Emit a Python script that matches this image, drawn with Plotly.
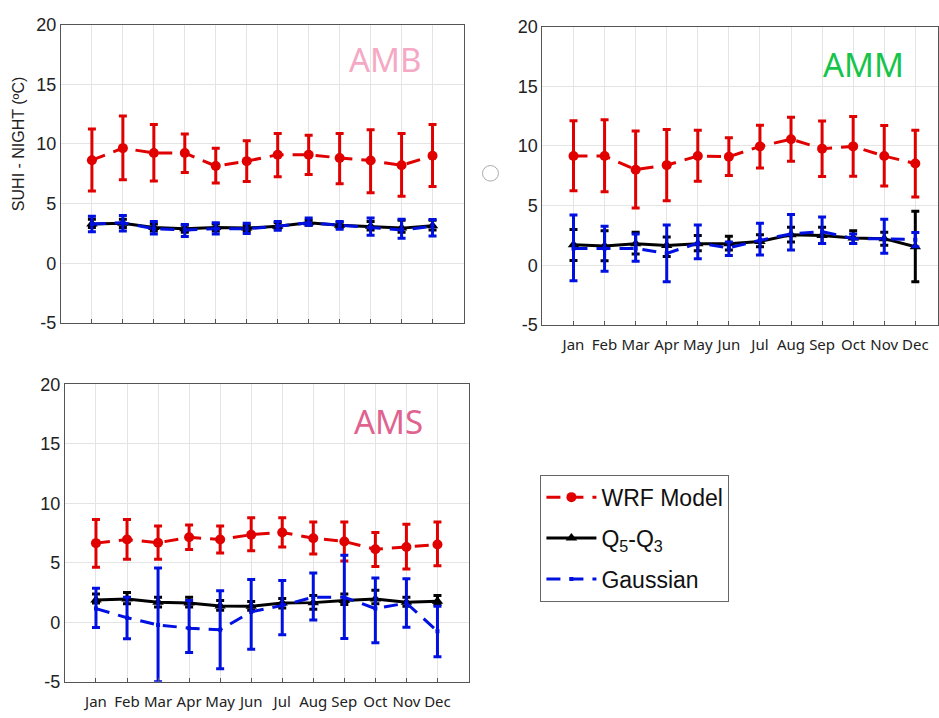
import plotly.graph_objects as go

W, H = 939, 718
months = ["Jan", "Feb", "Mar", "Apr", "May", "Jun", "Jul", "Aug", "Sep", "Oct", "Nov", "Dec"]
xpos = list(range(1, 13))
yticks = [-5, 0, 5, 10, 15, 20]
yticklabels = ["-5", "0", "5", "10", "15", "20"]

# ---------------- AMB ----------------
amb_wrf = [8.64, 9.65, 9.24, 9.24, 8.15, 8.56, 9.10, 9.10, 8.83, 8.61, 8.21, 9.02]
amb_wrf_hi = [11.25, 12.34, 11.63, 10.84, 9.65, 10.27, 10.87, 10.73, 10.87, 11.20, 10.87, 11.63]
amb_wrf_lo = [6.06, 7.01, 6.90, 7.61, 6.74, 6.85, 7.26, 7.45, 6.66, 5.92, 5.63, 6.44]
amb_q = [3.30, 3.35, 3.00, 2.90, 3.00, 2.95, 3.10, 3.40, 3.20, 3.10, 2.95, 3.15]
amb_q_hi = [3.70, 3.70, 3.30, 3.20, 3.30, 3.20, 3.40, 3.60, 3.45, 3.50, 3.60, 3.60]
amb_q_lo = [3.00, 3.00, 2.70, 2.60, 2.70, 2.70, 2.90, 3.20, 3.00, 2.80, 2.60, 2.80]
amb_g = [3.30, 3.40, 2.90, 2.80, 2.90, 2.90, 3.10, 3.40, 3.20, 3.00, 2.80, 3.10]
amb_g_hi = [3.94, 4.00, 3.50, 3.26, 3.40, 3.35, 3.50, 3.80, 3.50, 3.80, 3.70, 3.67]
amb_g_lo = [2.64, 2.70, 2.45, 2.25, 2.45, 2.50, 2.77, 3.20, 2.85, 2.36, 2.10, 2.30]

# ---------------- AMM ----------------
amm_wrf = [9.15, 9.15, 8.01, 8.39, 9.15, 9.09, 9.96, 10.56, 9.77, 9.96, 9.15, 8.52]
amm_wrf_hi = [12.10, 12.19, 11.24, 11.37, 11.32, 10.69, 11.73, 12.40, 12.08, 12.46, 11.70, 11.32]
amm_wrf_lo = [6.24, 6.16, 4.80, 5.40, 7.03, 7.52, 8.14, 8.71, 7.44, 7.46, 6.65, 5.73]
amm_q = [1.71, 1.62, 1.80, 1.65, 1.80, 1.80, 2.00, 2.55, 2.50, 2.28, 2.23, 1.55]
amm_q_hi = [2.99, 2.90, 2.77, 2.36, 2.50, 2.44, 2.55, 3.18, 3.18, 2.90, 2.77, 4.53]
amm_q_lo = [0.41, 0.38, 0.95, 0.73, 1.22, 1.28, 1.55, 1.95, 1.82, 1.82, 1.68, -1.38]
amm_g = [1.41, 1.41, 1.41, 1.00, 1.85, 1.47, 2.09, 2.63, 2.82, 2.23, 2.23, 2.14]
amm_g_hi = [4.21, 3.26, 2.63, 3.37, 3.37, 1.95, 3.53, 4.26, 4.04, 2.63, 3.85, 2.74]
amm_g_lo = [-1.30, -0.49, 0.33, -1.38, 0.54, 0.81, 0.87, 1.28, 1.82, 1.82, 1.00, 1.55]

# ---------------- AMS ----------------
ams_wrf = [6.65, 6.95, 6.68, 7.14, 6.95, 7.36, 7.55, 7.06, 6.79, 6.13, 6.32, 6.54]
ams_wrf_hi = [8.64, 8.64, 8.10, 8.18, 8.10, 8.78, 8.78, 8.42, 8.42, 7.55, 8.23, 8.42]
ams_wrf_lo = [4.63, 5.29, 5.29, 6.11, 5.83, 6.00, 6.32, 5.73, 5.15, 4.69, 4.47, 4.74]
ams_q = [1.88, 1.95, 1.69, 1.61, 1.36, 1.35, 1.61, 1.65, 1.83, 1.96, 1.69, 1.77]
ams_q_hi = [2.37, 2.50, 2.10, 2.10, 1.83, 1.74, 2.00, 2.24, 2.37, 2.70, 2.10, 2.24]
ams_q_lo = [1.61, 1.55, 1.28, 1.28, 1.00, 1.00, 1.20, 1.09, 1.50, 1.55, 1.34, 1.50]
ams_g = [1.15, 0.38, -0.22, -0.50, -0.63, 0.87, 1.42, 2.10, 2.10, 1.15, 1.61, -0.76]
ams_g_hi = [2.86, 2.10, 4.55, 1.83, 2.64, 3.60, 3.52, 4.14, 5.64, 3.73, 3.65, 1.34]
ams_g_lo = [-0.44, -1.39, -4.99, -2.54, -3.90, -2.26, -1.04, 0.19, -1.36, -1.72, -0.41, -2.89]

RED, BLACK, BLUE = "#E00000", "#000000", "#0010E0"

fig = go.Figure()


def err(c, hi, lo, color):
    return dict(type="data", symmetric=False,
                array=[h - v for h, v in zip(hi, c)],
                arrayminus=[v - l for v, l in zip(c, lo)],
                color=color, thickness=3, width=4)


panels = [
    ("x", "y", amb_wrf, amb_wrf_hi, amb_wrf_lo, amb_q, amb_q_hi, amb_q_lo, amb_g, amb_g_hi, amb_g_lo, True),
    ("x2", "y2", amm_wrf, amm_wrf_hi, amm_wrf_lo, amm_q, amm_q_hi, amm_q_lo, amm_g, amm_g_hi, amm_g_lo, False),
    ("x3", "y3", ams_wrf, ams_wrf_hi, ams_wrf_lo, ams_q, ams_q_hi, ams_q_lo, ams_g, ams_g_hi, ams_g_lo, False),
]

for xa, ya, w, wh, wl, q, qh, ql, g, gh, gl, leg in panels:
    fig.add_trace(go.Scatter(x=xpos, y=w, xaxis=xa, yaxis=ya, mode="lines+markers",
                             name="WRF Model", showlegend=leg, legendgroup="w",
                             line=dict(color=RED, width=3, dash="14px,9px"),
                             marker=dict(symbol="circle", size=10, color=RED),
                             error_y=err(w, wh, wl, RED)))
    fig.add_trace(go.Scatter(x=xpos, y=q, xaxis=xa, yaxis=ya, mode="lines+markers",
                             name="Q<sub>5</sub>-Q<sub>3</sub>", showlegend=leg, legendgroup="q",
                             line=dict(color=BLACK, width=3),
                             marker=dict(symbol="triangle-up", size=10, color=BLACK),
                             error_y=err(q, qh, ql, BLACK)))
    fig.add_trace(go.Scatter(x=xpos, y=g, xaxis=xa, yaxis=ya, mode="lines+markers",
                             name="Gaussian", showlegend=leg, legendgroup="g",
                             line=dict(color=BLUE, width=3, dash="14px,9px"),
                             marker=dict(symbol="square", size=4, color=BLUE),
                             error_y=err(g, gh, gl, BLUE)))


def px_x(p):
    return p / W


def px_y(p):
    return 1 - p / H


axis_common = dict(showline=True, mirror=True, linecolor="#555", linewidth=1,
                   showgrid=True, gridcolor="#e4e4e4", gridwidth=1, zeroline=False)

xcommon = dict(axis_common, tickmode="array", tickvals=xpos, ticktext=months,
               ticks="inside", ticklen=4, tickcolor="#555",
               tickfont=dict(family="Noto Sans", size=15, color="#222"),
               ticklabelstandoff=6)
ycommon = dict(axis_common, range=[-5, 20], tickmode="array", tickvals=yticks, ticktext=yticklabels,
               ticks="", tickfont=dict(family="Liberation Sans", size=18, color="#222"))

fig.update_layout(
    width=W, height=H, margin=dict(l=0, r=0, t=0, b=0),
    paper_bgcolor="white", plot_bgcolor="white",
    xaxis=dict(xcommon, domain=[px_x(61), px_x(464)], range=[0, 13], anchor="y", showticklabels=False),
    yaxis=dict(ycommon, domain=[px_y(322), px_y(15)], anchor="x"),
    xaxis2=dict(xcommon, domain=[px_x(543), 1.0], range=[0, 12.73], anchor="y2"),
    yaxis2=dict(ycommon, domain=[px_y(324), px_y(17)], anchor="x2"),
    xaxis3=dict(xcommon, domain=[px_x(65), px_x(469)], range=[0, 13], anchor="y3"),
    yaxis3=dict(ycommon, domain=[px_y(691), px_y(385)], anchor="x3"),
    showlegend=True,
    legend=dict(x=px_x(541), y=px_y(478), xanchor="left", yanchor="top",
                bgcolor="white", bordercolor="#666", borderwidth=1,
                font=dict(family="Liberation Sans", size=23, color="#111"),
                itemwidth=50, tracegroupgap=8),
    annotations=[
        dict(text="SUHI - NIGHT (ºC)", x=px_x(18), y=px_y(138), xref="paper", yref="paper",
             xanchor="center", yanchor="middle",
             textangle=-90, showarrow=False, font=dict(family="Liberation Sans", size=16, color="#222")),
        dict(text="AMB", x=px_x(385), y=px_y(51), xref="paper", yref="paper", showarrow=False,
             xanchor="center", yanchor="middle",
             font=dict(family="Noto Sans", size=33, color="#F5A9C4")),
        dict(text="AMM", x=px_x(864), y=px_y(56), xref="paper", yref="paper", showarrow=False,
             xanchor="center", yanchor="middle",
             font=dict(family="Noto Sans", size=33, color="#16C44B")),
        dict(text="AMS", x=px_x(389), y=px_y(423), xref="paper", yref="paper", showarrow=False,
             xanchor="center", yanchor="middle",
             font=dict(family="Noto Sans", size=33, color="#E0638F")),
    ],
    shapes=[
        dict(type="circle", xref="paper", yref="paper", x0=px_x(483), x1=px_x(499),
             y0=px_y(176), y1=px_y(160), line=dict(color="#aaaaaa", width=1)),
    ],
)

fig.write_html("out.html")
